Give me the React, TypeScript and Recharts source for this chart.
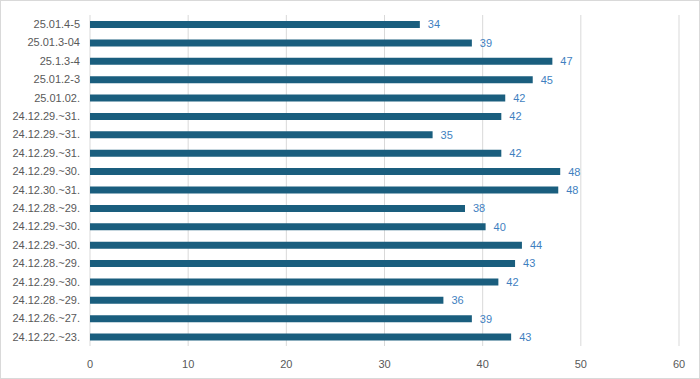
import { BarChart, Bar, XAxis, YAxis, CartesianGrid, LabelList } from 'recharts';

const categories = [
  '25.01.4-5',
  '25.01.3-04',
  '25.1.3-4',
  '25.01.2-3',
  '25.01.02.',
  '24.12.29.~31.',
  '24.12.29.~31.',
  '24.12.29.~31.',
  '24.12.29.~30.',
  '24.12.30.~31.',
  '24.12.28.~29.',
  '24.12.29.~30.',
  '24.12.29.~30.',
  '24.12.28.~29.',
  '24.12.29.~30.',
  '24.12.28.~29.',
  '24.12.26.~27.',
  '24.12.22.~23.',
];

const values = [33.6, 38.9, 47.1, 45.1, 42.3, 41.9, 34.9, 41.9, 47.9, 47.7, 38.2, 40.3, 44.0, 43.3, 41.6, 36.0, 38.9, 42.9];

const xTicks = [0, 10, 20, 30, 40, 50, 60];

const data = categories.map((name, i) => ({ id: i, name, value: values[i] }));

const FONT = '"Liberation Sans", Arial, sans-serif';

export default function App() {
  return (
    <div
      style={{
        position: 'absolute',
        left: 0,
        top: 0,
        width: 700,
        height: 379,
        boxSizing: 'border-box',
        border: '1px solid #d9d9d9',
        background: '#fff',
        fontFamily: FONT,
      }}
    >
      <div style={{ position: 'absolute', left: -1, top: -1 }}>
        <BarChart
          width={700}
          height={379}
          data={data}
          layout="vertical"
          barSize={7}
          margin={{ top: 15, right: 21, left: 0, bottom: 3 }}
        >
          <CartesianGrid horizontal={false} stroke="#d9d9d9" />
          <XAxis
            type="number"
            domain={[0, 60]}
            ticks={xTicks}
            height={30}
            tickLine={false}
            axisLine={false}
            tickMargin={8}
            tick={{ fontSize: 11, fill: '#595959', fontFamily: FONT }}
          />
          <YAxis
            type="category"
            dataKey="id"
            width={90}
            interval={0}
            tickLine={false}
            axisLine={false}
            tickMargin={4}
            tickFormatter={(i) => categories[i]}
            tick={{ fontSize: 11, fill: '#595959', fontFamily: FONT }}
          />
          <Bar dataKey="value" fill="#1a5e7e" isAnimationActive={false}>
            <LabelList
              dataKey="value"
              position="right"
              offset={8}
              formatter={(v: number) => Math.round(v)}
              style={{ fontSize: 11, fill: '#3f7fbf', fontFamily: FONT }}
            />
          </Bar>
        </BarChart>
      </div>
    </div>
  );
}
